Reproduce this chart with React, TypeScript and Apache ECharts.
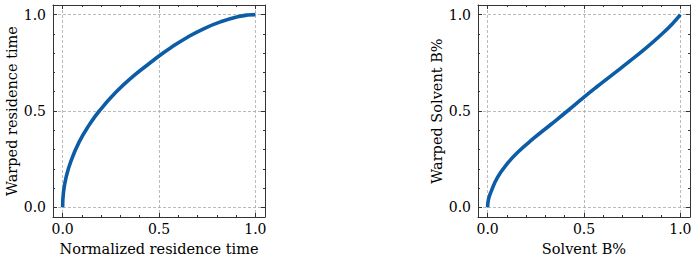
import React, { useEffect, useRef } from "react";
import * as echarts from "echarts";

// Left panel: normalized residence time -> warped residence time
const timeX = [0, 0.004, 0.017, 0.043, 0.086, 0.138, 0.19, 0.276, 0.362, 0.448, 0.5, 0.561, 0.648, 0.734, 0.82, 0.907, 0.96, 1];
const timeY = [0, 0.075, 0.152, 0.24, 0.34, 0.428, 0.5, 0.597, 0.677, 0.745, 0.785, 0.828, 0.883, 0.928, 0.963, 0.989, 0.998, 1];

// Right panel: solvent B% -> warped solvent B%
const solvX = [0, 0.004, 0.017, 0.052, 0.103, 0.155, 0.241, 0.328, 0.414, 0.5, 0.562, 0.648, 0.734, 0.821, 0.907, 0.959, 1];
const solvY = [0, 0.04, 0.079, 0.157, 0.228, 0.285, 0.36, 0.43, 0.5, 0.572, 0.622, 0.689, 0.756, 0.826, 0.902, 0.953, 1];

const majorTicks = [0, 0.5, 1];
const minorTicks = [0.1, 0.2, 0.3, 0.4, 0.6, 0.7, 0.8, 0.9];

const panels = [
  { xName: "Normalized residence time", yName: "Warped residence time", xs: timeX, ys: timeY, left: 53 },
  { xName: "Solvent B%", yName: "Warped Solvent B%", xs: solvX, ys: solvY, left: 478 },
];

const FONT = "DejaVu Serif";
const FRAME = "#333333";
const BLUE = "#0C5DA5";

export default function App() {
  const ref = useRef<HTMLDivElement>(null);
  useEffect(() => {
    document.body.style.margin = "0";
    const chart = echarts.init(ref.current!, undefined, { renderer: "svg" });
    const grids: any[] = [];
    const xAxes: any[] = [];
    const yAxes: any[] = [];
    const series: any[] = [];
    panels.forEach((p, gi) => {
      grids.push({ left: p.left, top: 5, width: 212, height: 212 });
      const base = {
        gridIndex: gi,
        type: "value",
        min: -0.05,
        max: 1.05,
      };
      const mkAxes = (isX: boolean, name: string) => {
        const posMain = isX ? "bottom" : "left";
        const posOpp = isX ? "top" : "right";
        const list: any[] = [];
        list.push({
          ...base,
          position: posMain,
          name,
          nameLocation: "middle",
          nameGap: isX ? 24 : 34,
          nameTextStyle: { fontFamily: FONT, fontSize: 14.5, color: "#000" },
          axisLine: { show: true, onZero: false, lineStyle: { color: FRAME, width: 1 } },
          axisTick: { show: true, inside: true, length: 4, customValues: majorTicks, lineStyle: { color: FRAME, width: 1 } },
          axisLabel: {
            show: true,
            customValues: majorTicks,
            formatter: (v: number) => v.toFixed(1),
            fontFamily: FONT,
            fontSize: 14,
            color: "#000",
            margin: isX ? 5 : 7,
          },
          splitLine: { show: true, lineStyle: { color: "#a8a8a8", width: 0.8, type: [3, 2] } },
          minorTick: { show: false },
        });
        list.push({
          ...base,
          position: posMain,
          axisLine: { show: false, onZero: false },
          axisTick: { show: true, inside: true, length: 2, customValues: minorTicks, lineStyle: { color: FRAME, width: 1 } },
          axisLabel: { show: false },
          splitLine: { show: false },
        });
        list.push({
          ...base,
          position: posOpp,
          axisLine: { show: true, onZero: false, lineStyle: { color: FRAME, width: 1 } },
          axisTick: { show: true, inside: true, length: 4, customValues: majorTicks, lineStyle: { color: FRAME, width: 1 } },
          axisLabel: { show: false },
          splitLine: { show: false },
        });
        list.push({
          ...base,
          position: posOpp,
          axisLine: { show: false, onZero: false },
          axisTick: { show: true, inside: true, length: 2, customValues: minorTicks, lineStyle: { color: FRAME, width: 1 } },
          axisLabel: { show: false },
          splitLine: { show: false },
        });
        return list;
      };
      const xStart = xAxes.length;
      const yStart = yAxes.length;
      xAxes.push(...mkAxes(true, p.xName));
      yAxes.push(...mkAxes(false, p.yName));
      series.push({
        type: "line",
        xAxisIndex: xStart,
        yAxisIndex: yStart,
        data: p.xs.map((x, i) => [x, p.ys[i]]),
        showSymbol: false,
        smooth: 0.5,
        lineStyle: { color: BLUE, width: 3.6 },
        itemStyle: { color: BLUE },
        z: 5,
      });
    });
    chart.setOption({
      animation: false,
      backgroundColor: "#ffffff",
      grid: grids,
      xAxis: xAxes,
      yAxis: yAxes,
      series,
    });
    return () => chart.dispose();
  }, []);
  return <div ref={ref} style={{ width: 698, height: 264 }} />;
}
